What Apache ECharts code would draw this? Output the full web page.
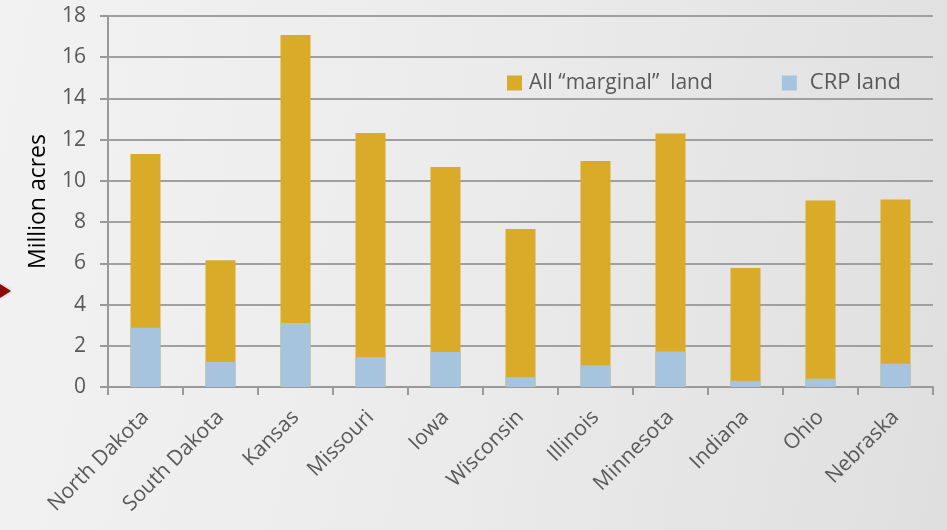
<!DOCTYPE html>
<html>
<head>
<meta charset="utf-8">
<script src="https://cdn.jsdelivr.net/npm/echarts@6/dist/echarts.min.js"></script>
<style>
html, body { margin: 0; padding: 0; }
#chart {
  width: 947px;
  height: 530px;
  background: linear-gradient(100deg, #f2f2f2 0%, #ebebeb 50%, #dfdfdf 100%);
}
</style>
</head>
<body>
<div id="chart"></div>
<script>
// states, left to right
var states = ["North Dakota", "South Dakota", "Kansas", "Missouri", "Iowa", "Wisconsin",
  "Illinois", "Minnesota", "Indiana", "Ohio", "Nebraska"];
// all "marginal" land, million acres
var marginalLand = [11.3, 6.15, 17.08, 12.32, 10.67, 7.67, 10.97, 12.3, 5.77, 9.05, 9.1];
// CRP land, million acres (drawn in front of the gold bar)
var crpLand = [2.87, 1.22, 3.1, 1.45, 1.7, 0.48, 1.05, 1.72, 0.3, 0.4, 1.13];
var yTicks = { min: 0, max: 18, interval: 2 };

var font = "'Open Sans', 'Noto Sans', sans-serif";
var chart = echarts.init(document.getElementById("chart"));
var option = {
  backgroundColor: "transparent",
  animation: false,
  grid: { left: 108, right: 14, top: 16, bottom: 143 },
  legend: {
    top: 67,
    left: 502,
    itemWidth: 15,
    itemHeight: 15,
    itemGap: 69,
    icon: "rect",
    textStyle: { color: "#595959", fontSize: 21, fontFamily: font },
    data: [
      { name: "All \u201cmarginal\u201d  land", textStyle: { padding: [0, 0, 0, 2] } },
      { name: "CRP land", textStyle: { padding: [0, 0, 0, 8], fontSize: 22 } }
    ]
  },
  graphic: [
    {
      type: "polygon",
      left: 0,
      top: 284,
      shape: { points: [[0, 0], [11, 7], [0, 14]] },
      style: { fill: "#8b0a0a", shadowBlur: 3, shadowColor: "rgba(0,0,0,0.3)" }
    }
  ],
  xAxis: {
    type: "category",
    data: states,
    axisLine: { lineStyle: { color: "#999999", width: 2 } },
    axisTick: { show: true, length: 8, lineStyle: { color: "#999999", width: 2 } },
    axisLabel: {
      rotate: 45,
      margin: 27,
      color: "#595959",
      fontSize: 21,
      fontFamily: font
    }
  },
  yAxis: {
    type: "value",
    min: yTicks.min,
    max: yTicks.max,
    interval: yTicks.interval,
    name: "Million acres",
    nameLocation: "middle",
    nameGap: 58,
    nameTextStyle: { color: "#000000", fontSize: 23, fontFamily: font },
    axisLine: { show: true, lineStyle: { color: "#999999", width: 2 } },
    axisTick: { show: true, length: 8, inside: false, lineStyle: { color: "#999999", width: 2 } },
    axisLabel: { color: "#595959", fontSize: 21, fontFamily: font, margin: 22 },
    splitLine: { lineStyle: { color: "#a0a0a0", width: 2 } }
  },
  series: [
    {
      name: "All \u201cmarginal\u201d  land",
      type: "bar",
      data: marginalLand,
      barWidth: 30,
      barGap: "-100%",
      itemStyle: { color: "#d9ab29" }
    },
    {
      name: "CRP land",
      type: "bar",
      data: crpLand,
      barWidth: 30,
      barGap: "-100%",
      itemStyle: { color: "#a6c4de" }
    }
  ]
};
chart.setOption(option);
</script>
</body>
</html>
